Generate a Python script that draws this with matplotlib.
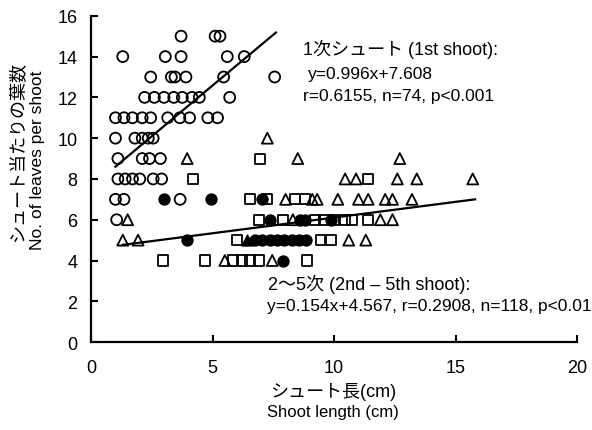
import matplotlib
matplotlib.use("Agg")
import matplotlib.pyplot as plt
import numpy as np

plt.rcParams["font.family"] = ["Liberation Sans", "Noto Sans CJK JP"]

# 1st shoot (open circles): x = shoot length, y = leaves
first_x = [3.7, 5.1, 5.3,
           1.3, 3.05, 3.7, 5.6, 6.3,
           2.45, 3.3, 3.45, 3.9, 5.45, 7.55,
           2.2, 2.6, 3.0, 3.4, 3.75, 4.15, 4.45, 5.7,
           1.0, 1.35, 1.7, 2.1, 2.45, 3.15, 3.65, 4.05, 4.8, 5.2,
           1.0, 1.8, 2.1, 2.35, 2.55,
           1.1, 2.1, 2.4, 2.85,
           1.1, 1.4, 1.7, 2.0, 2.55, 2.9,
           1.0, 1.35, 3.66,
           1.05]
first_y = [15, 15, 15,
           14, 14, 14, 14, 14,
           13, 13, 13, 13, 13, 13,
           12, 12, 12, 12, 12, 12, 12, 12,
           11, 11, 11, 11, 11, 11, 11, 11, 11, 11,
           10, 10, 10, 10, 10,
           9, 9, 9, 9,
           8, 8, 8, 8, 8, 8,
           7, 7, 7,
           6]

# 2nd-5th shoots
tri_x = [7.25, 3.95, 8.5, 12.7,
         10.45, 10.9, 12.6, 13.4, 15.7,
         8.0, 9.1, 9.3, 10.15, 11.0, 11.4, 12.1, 12.4, 13.2,
         1.5, 8.3, 11.9, 12.4,
         1.3, 1.93, 10.6, 11.3,
         5.5, 7.45]
tri_y = [10, 9, 9, 9,
         8, 8, 8, 8, 8,
         7, 7, 7, 7, 7, 7, 7, 7, 7,
         6, 6, 6, 6,
         5, 5, 5, 5,
         4, 4]

sq_x = [6.95,
        4.2, 11.4,
        6.55, 7.25, 8.4, 8.8,
        6.9, 7.9, 9.2, 9.6, 10.0, 10.45, 10.75, 11.4,
        6.0, 9.45, 9.85,
        2.97, 4.7, 5.85, 6.2, 6.55, 6.9, 8.9]
sq_y = [9,
        8, 8,
        7, 7, 7, 7,
        6, 6, 6, 6, 6, 6, 6, 6,
        5, 5, 5,
        4, 4, 4, 4, 4, 4, 4]

dot_x = [3.0, 4.95, 7.05,
         7.35, 8.6, 8.8, 9.85,
         3.95, 6.75, 7.05, 7.35, 7.65, 7.95, 8.25, 8.55, 8.85,
         7.9]
dot_y = [7, 7, 7,
         6, 6, 6, 6,
         5, 5, 5, 5, 5, 5, 5, 5, 5,
         4]

ftri_x = [6.4]
ftri_y = [5]

# regression lines (coefficients from the chart, x-range of each fit)
fit1 = (0.996, 7.608, 1.0, 7.6)
fit2 = (0.154, 4.567, 1.3, 15.8)

fig = plt.figure(figsize=(5.92, 4.31), dpi=100)
ax = fig.add_axes([0.154, 0.204, 0.821, 0.757])

ms = 62
lw = 1.3
ax.scatter(first_x, first_y, s=ms, marker="o", facecolors="none", edgecolors="black", linewidths=lw, zorder=3)
ax.scatter(tri_x, tri_y, s=ms, marker="^", facecolors="none", edgecolors="black", linewidths=lw, zorder=3)
ax.scatter(sq_x, sq_y, s=ms * 0.85, marker="s", facecolors="none", edgecolors="black", linewidths=lw, zorder=3)
ax.scatter(dot_x, dot_y, s=ms, marker="o", color="black", zorder=3)
ax.scatter(ftri_x, ftri_y, s=ms, marker="^", color="black", zorder=3)

for a, b, x0, x1 in (fit1, fit2):
    xs = np.array([x0, x1])
    ax.plot(xs, a * xs + b, color="black", lw=1.6, zorder=4)

ax.set_xlim(0, 20)
ax.set_ylim(0, 16)
ax.set_xticks([0, 5, 10, 15, 20])
ax.set_yticks(range(0, 17, 2))
ax.tick_params(direction="in", length=5, width=1.5, labelsize=13, pad=10)
ax.tick_params(axis="x", pad=12)
for s in ("top", "right"):
    ax.spines[s].set_visible(False)
for s in ("left", "bottom"):
    ax.spines[s].set_linewidth(1.6)

ax.text(8.72, 14.38, "1次シュート (1st shoot):", fontsize=13, va="center")
ax.text(8.9, 13.15, "y=0.996x+7.608", fontsize=12.5, va="center")
ax.text(8.72, 12.07, "r=0.6155, n=74, p<0.001", fontsize=12.5, va="center")
ax.text(7.28, 2.9, "2〜5次 (2nd – 5th shoot):", fontsize=13, va="center")
ax.text(7.24, 1.77, "y=0.154x+4.567, r=0.2908, n=118, p<0.01", fontsize=12.5, va="center")

fig.text(18 / 592, 1 - 152 / 431, "シュート当たりの葉数", rotation=90, fontsize=13, ha="center", va="center")
fig.text(38 / 592, 1 - 160 / 431, "No. of leaves per shoot", rotation=90, fontsize=12.5, ha="center", va="center")
fig.text(333 / 592, 1 - 392 / 431, "シュート長(cm)", fontsize=13, ha="center", va="center")
fig.text(333 / 592, 1 - 413 / 431, "Shoot length (cm)", fontsize=12, ha="center", va="center")

fig.savefig("out.png", dpi=100)
